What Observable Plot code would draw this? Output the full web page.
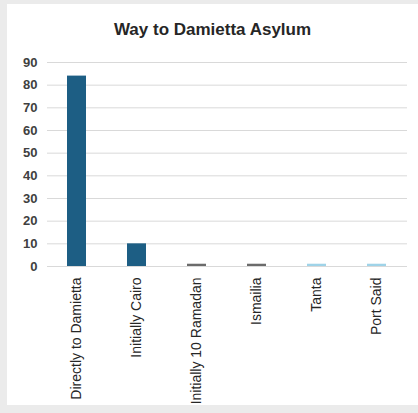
<!DOCTYPE html>
<html><head><meta charset="utf-8">
<script src="https://cdn.jsdelivr.net/npm/d3@7"></script>
<script src="https://cdn.jsdelivr.net/npm/@observablehq/plot@0.6"></script>
<style>
html,body{margin:0;padding:0;background:#ebebeb;width:418px;height:413px;overflow:hidden;font-family:"Liberation Sans",Arial,sans-serif}
#panel{position:absolute;left:7px;top:4px;width:411px;height:401px;background:#fff}
#title{position:absolute;left:0;width:411px;top:16px;text-align:center;font-weight:bold;font-size:17px;color:#262626}
#chart{position:absolute;left:0;top:41px}
</style></head><body>
<div id="panel"><div id="title">Way to Damietta Asylum</div><div id="chart"></div></div>
<script>
const categories = ["Directly to Damietta", "Initially Cairo", "Initially 10 Ramadan", "Ismailia", "Tanta", "Port Said"];
const values = [84, 10, 1, 1, 1, 1];
const yTicks = [0, 10, 20, 30, 40, 50, 60, 70, 80, 90];
const barColors = ["#1d5e84", "#1d5e84", "#6b6b6b", "#6b6b6b", "#9fd3e8", "#9fd3e8"];

const data = categories.map((c, i) => ({category: c, value: values[i]}));

const chart = Plot.plot({
  width: 411, height: 360,
  marginTop: 17, marginBottom: 139, marginLeft: 40, marginRight: 11,
  style: {fontFamily: "'Liberation Sans', Arial, sans-serif", background: "transparent"},
  x: {domain: categories, paddingInner: 0.68, paddingOuter: 0.34, label: null},
  y: {domain: [0, 90], label: null},
  color: {domain: categories, range: barColors},
  marks: [
    Plot.gridY(yTicks, {stroke: "#d9d9d9", strokeOpacity: 1}),
    Plot.barY(data, {x: "category", y: "value", fill: "category"}),
    Plot.axisY(yTicks, {tickSize: 0, tickPadding: 10, fontSize: 13, fontWeight: "bold", fill: "#404040", label: null}),
    Plot.axisX({tickSize: 0, tickRotate: -90, tickPadding: 11, fontSize: 14, fill: "#262626", label: null})
  ]
});
document.getElementById("chart").appendChild(chart);
</script>
</body></html>
